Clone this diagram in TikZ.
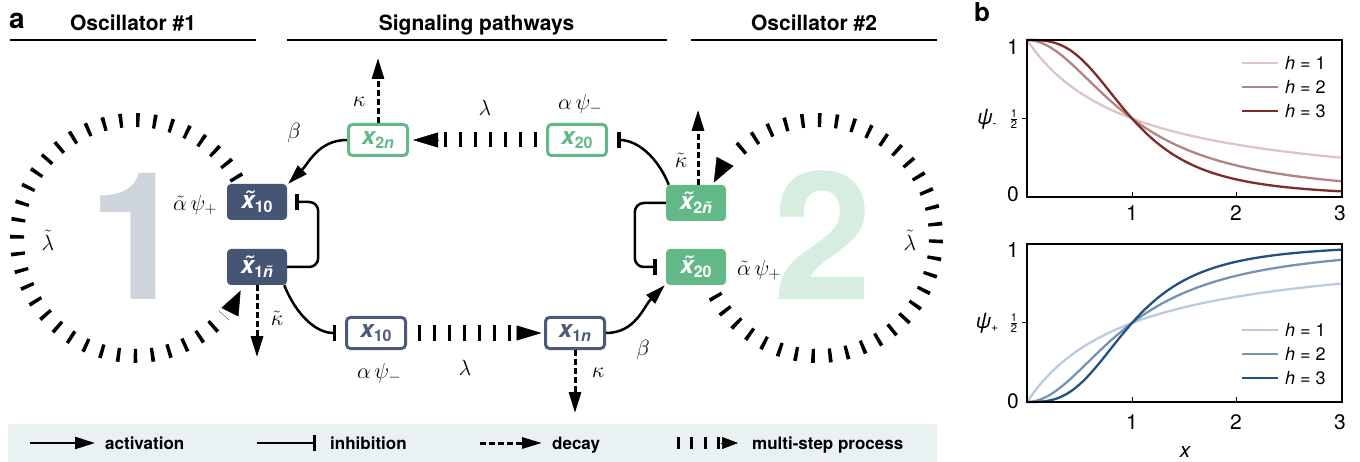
\RequirePackage{fix-cm}
\documentclass[tikz,border=0pt]{standalone}
\usepackage{amsmath}
\usepackage[no-math]{fontspec}
\setmainfont{TeX Gyre Heros}
\usetikzlibrary{arrows.meta}

% keep the math tilde accent in Computer Modern
\DeclareSymbolFont{cmaccents}{OT1}{cmr}{m}{n}
\DeclareMathAccent{\tilde}{\mathalpha}{cmaccents}{"7E}

\definecolor{navy}{HTML}{465573}
\definecolor{navyline}{HTML}{4A5A78}
\definecolor{leaf}{HTML}{62B987}
\definecolor{onegrey}{HTML}{CED4DC}
\definecolor{twogreen}{HTML}{D6EDE0}
\definecolor{legendbg}{HTML}{E9F1F3}
\definecolor{redA}{HTML}{DDC5C5}
\definecolor{redB}{HTML}{B38383}
\definecolor{redC}{HTML}{7D2B2B}
\definecolor{blueA}{HTML}{BCCBDC}
\definecolor{blueB}{HTML}{7594B4}
\definecolor{blueC}{HTML}{22507F}

% species labels: tilde variable and plain variable with subscript
\newcommand{\tvar}[1]{{\fontsize{24}{24}\selectfont\bfseries\itshape\~x}\raisebox{-4pt}{\fontsize{16}{16}\selectfont\bfseries #1}}
\newcommand{\pvar}[1]{{\fontsize{24}{24}\selectfont\bfseries\itshape x}\raisebox{-4pt}{\fontsize{16}{16}\selectfont\bfseries #1}}

\tikzset{
  filledbox/.style={rounded corners=4pt, minimum width=60pt, minimum height=36pt,
    inner sep=0pt, fill=#1, text=white},
  openbox/.style={rounded corners=4pt, minimum width=59pt, minimum height=31pt,
    inner sep=0pt, draw=#1, line width=3pt, fill=white, text=#1},
  act/.style={line width=2.5pt, -{Triangle[length=20pt,width=12pt]}},
  inh/.style={line width=2.5pt, -{Bar[width=16pt,line width=3.5pt]}, shorten >=9pt},
  decay/.style={line width=3pt, dash pattern=on 6pt off 3pt, -{Triangle[length=21pt,width=12pt]}},
  steps/.style={line width=15pt, dash pattern=on 3.5pt off 11.5pt},
  stepstip/.style={line width=0.5pt, -{Triangle[length=25pt,width=15pt]}},
  ring/.style={line width=14pt, dash pattern=on 3.5pt off 13.5pt},
  ringtip/.style={line width=0.5pt, -{Triangle[length=24pt,width=19pt]}},
  lbl/.style={font=\fontsize{22}{22}\selectfont, inner sep=0pt},
  head/.style={font=\fontsize{21}{21}\selectfont\bfseries, inner sep=0pt, anchor=base},
  headline/.style={line width=2.5pt},
  legtxt/.style={font=\fontsize{17}{17}\selectfont\bfseries, inner sep=0pt, anchor=base west},
  tick/.style={font=\fontsize{21}{21}\selectfont, inner sep=0pt},
  hleg/.style={font=\fontsize{18}{18}\selectfont, inner sep=0pt, anchor=west},
  curve/.style={line width=2.3pt},
  frame/.style={line width=1.8pt},
}

\begin{document}
\begin{tikzpicture}[x=1pt,y=-1pt]
\useasboundingbox (0,0) rectangle (1360,462);

% legend strip
\fill[legendbg] (8,424) rectangle (937,462);

% big oscillator numerals
\node[text=onegrey, font=\fontsize{178}{178}\selectfont\bfseries, inner sep=0pt, anchor=base] (num1) at (138,300) {1};
\node[text=twogreen, font=\fontsize{178}{178}\selectfont\bfseries, inner sep=0pt, anchor=base] (num2) at (823,300) {2};

% headings
\node[font=\fontsize{28}{28}\selectfont\bfseries, inner sep=0pt, anchor=base west] (pa) at (9,29) {a};
\node[font=\fontsize{26}{26}\selectfont\bfseries, inner sep=0pt, anchor=base west] (pb) at (974,22) {b};
\node[head] (h1) at (133,31) {Oscillator \#1};
\node[head] (h2) at (476.5,31) {Signaling pathways};
\node[head] (h3) at (814,31) {Oscillator \#2};
\draw[headline] (10,40) -- (256,40);
\draw[headline] (287,40) -- (667,40);
\draw[headline] (691,40) -- (937,40);

% oscillator rings
\coordinate (c1) at (135,238);
\coordinate (c2) at (818,238);
\draw[ring] (c1) ++(30:118pt) arc[start angle=30, end angle=319, radius=118pt];
\draw[ringtip] (c1) ++(-38:118pt) arc[start angle=-38, end angle=-26.5, radius=118pt];
\draw[ring] (c2) ++(209:118pt) arc[start angle=209, end angle=496, radius=118pt];
\draw[ringtip] (c2) ++(140.5:118pt) arc[start angle=140.5, end angle=152, radius=118pt];

% species
\node[filledbox=navy] (xt10) at (257,202) {\tvar{10}};
\node[filledbox=navy] (xt1n) at (257,267) {\tvar{1\textit{\~n}}};
\node[openbox=navyline] (x10) at (376,333) {\pvar{10}};
\node[openbox=navyline] (x1n) at (575,333) {\pvar{1\textit{n}}};
\node[openbox=leaf] (x2n) at (378,140) {\pvar{2\textit{n}}};
\node[openbox=leaf] (x20) at (577,140) {\pvar{20}};
\node[filledbox=leaf] (xt2n) at (696,203) {\tvar{2\textit{\~n}}};
\node[filledbox=leaf] (xt20) at (696,267) {\tvar{20}};

% multi-step transfers
\draw[steps] ([xshift=-9pt]x20.west) -- ([xshift=29pt]x2n.east);
\draw[stepstip] ([xshift=29pt]x2n.east) -- ([xshift=4pt]x2n.east);
\draw[steps] ([xshift=10.5pt]x10.east) -- ([xshift=-30pt]x1n.west);
\draw[stepstip] ([xshift=-27pt]x1n.west) -- ([xshift=-2.5pt]x1n.west);

% activations
\draw[act] (x2n.west) to[out=180, in=45] ([xshift=1pt]xt10.north east);
\draw[act] (x1n.east) to[out=0, in=225] ([xshift=-1pt]xt20.south west);

% inhibitions
\draw[inh, shorten >=8pt, rounded corners=9pt] (xt1n.east) -- ++(31,0) |- (xt10.east);
\draw[inh, rounded corners=9pt] (xt2n.west) -- ++(-31,0) |- (xt20.west);
\draw[inh] ([xshift=3pt]xt2n.north west) to[out=112, in=0] (x20.east);
\draw[inh] ([xshift=-3pt]xt1n.south east) to[out=-68, in=180] (x10.west);

% decays (yshift is in page units: positive is up)
\coordinate (d2n) at ([yshift=65pt]x2n.north);
\coordinate (dt2n) at ([xshift=2pt,yshift=75pt]xt2n.north);
\coordinate (dt1n) at ([yshift=-72pt]xt1n.south);
\coordinate (d1n) at ([yshift=-63pt]x1n.south);
\draw[decay] (x2n.north) -- (d2n);
\draw[decay] ([xshift=2pt]xt2n.north) -- (dt2n);
\draw[decay] (xt1n.south) -- (dt1n);
\draw[decay] (x1n.south) -- (d1n);

% rate labels
\node[lbl] (la1) at (195,205) {$\tilde{\alpha}\,\psi_+$};
\node[lbl] (la2) at (759,270) {$\tilde{\alpha}\,\psi_+$};
\node[lbl] (la3) at (580,104) {$\alpha\,\psi_-$};
\node[lbl] (la4) at (379,373) {$\alpha\,\psi_-$};
\node[lbl] (lk1) at (359,102) {$\kappa$};
\node[lbl] (lk2) at (598,373) {$\kappa$};
\node[lbl] (lk3) at (681,160) {$\tilde\kappa$};
\node[lbl] (lk4) at (277,318) {$\tilde\kappa$};
\node[lbl] (lb1) at (294,133) {$\beta$};
\node[lbl] (lb2) at (643,350) {$\beta$};
\node[lbl] (ll1) at (485,108) {$\lambda$};
\node[lbl] (ll2) at (465,368) {$\lambda$};
\node[lbl] (ll3) at (48,240) {$\tilde\lambda$};
\node[lbl] (ll4) at (910,240) {$\tilde\lambda$};

% legend
\draw[act] (30,443) -- (95,443);
\node[legtxt] (t1) at (105,449.5) {activation};
\draw[inh, shorten >=0pt] (257,443) -- (316,443);
\node[legtxt] (t2) at (330,449.5) {inhibition};
\draw[decay, -{Triangle[length=20pt,width=11pt]}] (480,443) -- (542,443);
\node[legtxt] (t3) at (552,449.5) {decay};
\draw[line width=12pt, dash pattern=on 3pt off 10.5pt] (676.5,443) -- (721,443);
\draw[line width=0.5pt, -{Triangle[length=16pt,width=12pt]}] (721,443) -- (738,443);
\node[legtxt] (t4) at (752,449.5) {multi-step process};

% panel b, upper plot: psi minus
\draw[curve, redA] plot[domain=0:3, samples=120] ({1027+105*\x},{197-157/(1+\x)});
\draw[curve, redB] plot[domain=0:3, samples=120] ({1027+105*\x},{197-157/(1+\x*\x)});
\draw[curve, redC] plot[domain=0:3, samples=120] ({1027+105*\x},{197-157/(1+\x*\x*\x)});
\draw[frame] (1027,40) rectangle (1342,197);
\draw[line width=1pt] (1132,197) -- (1132,192) (1236,197) -- (1236,192) (1022,118.5) -- (1027,118.5);
\node[tick, anchor=east] (ya1) at (1019,47) {1};
\node[tick, anchor=east] (ya0) at (1019,194) {0};
\node[inner sep=0pt, font=\fontsize{16}{16}\selectfont] (yah) at (1014,119) {$\frac{\text{1}}{\text{2}}$};
\node[inner sep=0pt, font=\fontsize{21}{21}\selectfont] (ypm) at (987,119) {\textit{ψ}\raisebox{-3pt}{\fontsize{12}{12}\selectfont -}};
\node[tick] (xa1) at (1132,213) {1};
\node[tick] (xa2) at (1236,213) {2};
\node[tick] (xa3) at (1340,213) {3};
\draw[curve, redA] (1242,63) -- (1278,63);
\draw[curve, redB] (1242,87) -- (1278,87);
\draw[curve, redC] (1242,111) -- (1278,111);
\node[hleg] (hr1) at (1285,63) {\textit{h} = 1};
\node[hleg] (hr2) at (1285,87) {\textit{h} = 2};
\node[hleg] (hr3) at (1285,111) {\textit{h} = 3};

% panel b, lower plot: psi plus
\draw[curve, blueA] plot[domain=0:3, samples=120] ({1027+105*\x},{402-158*\x/(1+\x)});
\draw[curve, blueB] plot[domain=0:3, samples=120] ({1027+105*\x},{402-158*\x*\x/(1+\x*\x)});
\draw[curve, blueC] plot[domain=0:3, samples=120] ({1027+105*\x},{402-158*\x*\x*\x/(1+\x*\x*\x)});
\draw[frame] (1027,244) rectangle (1342,402);
\draw[line width=1pt] (1132,402) -- (1132,397) (1236,402) -- (1236,397) (1022,323) -- (1027,323);
\node[tick, anchor=east] (yb1) at (1019,250) {1};
\node[tick, anchor=east] (yb0) at (1019,401) {0};
\node[inner sep=0pt, font=\fontsize{16}{16}\selectfont] (ybh) at (1014,323) {$\frac{\text{1}}{\text{2}}$};
\node[inner sep=0pt, font=\fontsize{21}{21}\selectfont] (ypp) at (987,323) {\textit{ψ}\raisebox{-3pt}{\fontsize{12}{12}\selectfont +}};
\node[tick] (xb1) at (1132,422) {1};
\node[tick] (xb2) at (1236,422) {2};
\node[tick] (xb3) at (1340,422) {3};
\node[tick, font=\fontsize{21}{21}\selectfont\itshape] (xlab) at (1185,452) {x};
\draw[curve, blueA] (1242,330) -- (1278,330);
\draw[curve, blueB] (1242,354) -- (1278,354);
\draw[curve, blueC] (1242,378) -- (1278,378);
\node[hleg] (hb1) at (1285,330) {\textit{h} = 1};
\node[hleg] (hb2) at (1285,354) {\textit{h} = 2};
\node[hleg] (hb3) at (1285,378) {\textit{h} = 3};
\end{tikzpicture}
\end{document}
